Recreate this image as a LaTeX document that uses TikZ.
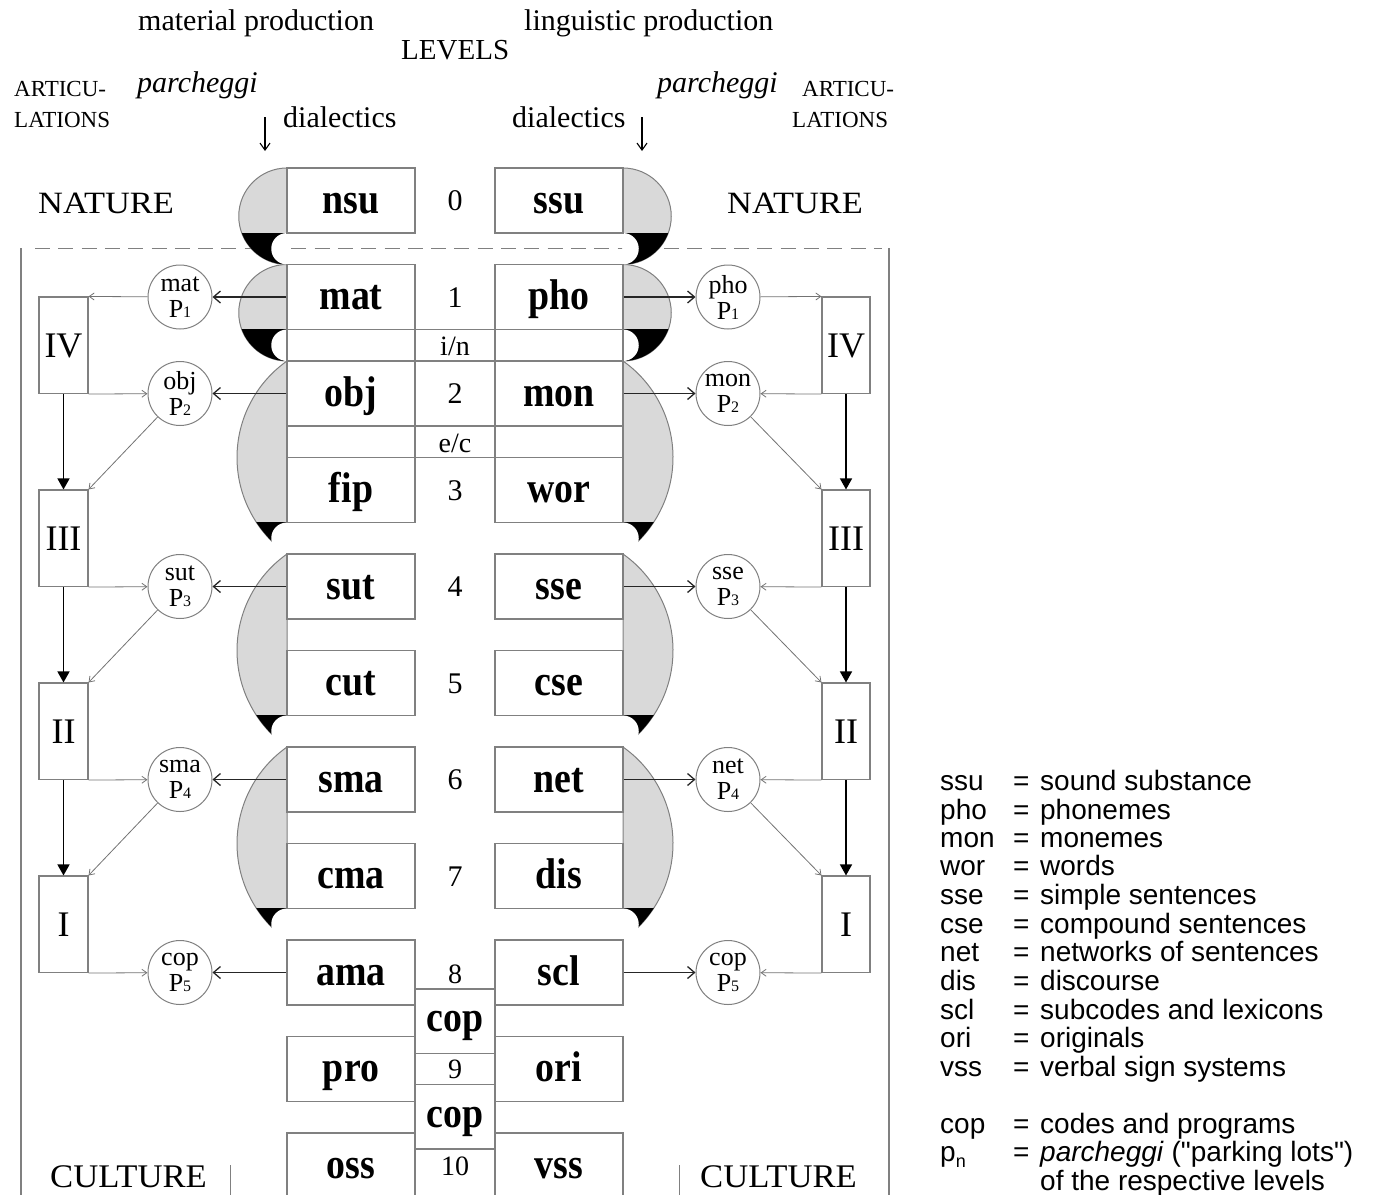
\documentclass[tikz,border=0pt]{standalone}
\usepackage{fontspec}
\setmainfont{Liberation Serif}
\newfontfamily\legfont{Liberation Sans}
\usepackage{graphicx}
\usetikzlibrary{arrows.meta}
\definecolor{segfill}{gray}{0.85}
\definecolor{lgray}{gray}{0.5}
\definecolor{tgray}{gray}{0.45}

\newcommand\lbl[1]{\scalebox{0.88}[1]{\fontsize{43}{43}\selectfont\bfseries #1}}
\newcommand\pcirc[2]{#1\\P{\fontsize{16}{16}\selectfont #2}}

% semicircular segment, left / right
\newcommand\segSL[2]{%
 \fill[segfill] (287,-#1) arc[start angle=90,end angle=270,radius=48.25] -- cycle;
 \draw[seg] (287,-#1) arc[start angle=90,end angle=270,radius=48.25] -- cycle;
 \begin{scope}\clip (200,-#2) rectangle (300,-1200);
 \fill[black] (287,-#1) arc[start angle=90,end angle=270,radius=48.25] -- cycle;
 \end{scope}}
\newcommand\segSR[2]{%
 \fill[segfill] (623,-#1) arc[start angle=90,end angle=-90,radius=48.25] -- cycle;
 \draw[seg] (623,-#1) arc[start angle=90,end angle=-90,radius=48.25] -- cycle;
 \begin{scope}\clip (610,-#2) rectangle (720,-1200);
 \fill[black] (623,-#1) arc[start angle=90,end angle=-90,radius=48.25] -- cycle;
 \end{scope}}
% lens-shaped segment, left / right
\newcommand\segLL[2]{%
 \fill[segfill] (287,-#1) arc[start angle=125.22,end angle=234.78,radius=118.12] -- cycle;
 \draw[seg] (287,-#1) arc[start angle=125.22,end angle=234.78,radius=118.12] -- cycle;
 \begin{scope}\clip (200,-#2) rectangle (300,-1200);
 \fill[black] (287,-#1) arc[start angle=125.22,end angle=234.78,radius=118.12] -- cycle;
 \end{scope}}
\newcommand\segLR[2]{%
 \fill[segfill] (623,-#1) arc[start angle=54.78,end angle=-54.78,radius=118.12] -- cycle;
 \draw[seg] (623,-#1) arc[start angle=54.78,end angle=-54.78,radius=118.12] -- cycle;
 \begin{scope}\clip (610,-#2) rectangle (720,-1200);
 \fill[black] (623,-#1) arc[start angle=54.78,end angle=-54.78,radius=118.12] -- cycle;
 \end{scope}}
\newcommand\pill[2]{\fill[white,rounded corners=15.7pt] (271.25,-#1) rectangle (638.75,-#2);}

\begin{document}
\begin{tikzpicture}[x=1pt,y=1pt,
 box/.style={draw=lgray,line width=1.1pt,fill=white,minimum width=128pt,minimum height=65pt,inner sep=0pt,text height=25pt,text depth=0pt},
 band/.style={draw=lgray,line width=1.1pt,fill=white,minimum height=31.5pt,inner sep=0pt},
 num/.style={inner sep=0pt,font=\fontsize{30}{30}\selectfont,text height=20pt,text depth=0pt},
 snum/.style={inner sep=0pt,font=\fontsize{28}{28}\selectfont,anchor=base},
 park/.style={circle,draw=lgray,line width=1pt,fill=white,minimum size=64pt,inner sep=0pt,align=center,font=\fontsize{26}{26}\selectfont},
 roman/.style={draw=lgray,line width=1.1pt,minimum width=49pt,minimum height=96.5pt,inner sep=0pt,font=\fontsize{36}{36}\selectfont,text height=24pt,text depth=0pt},
 dark/.style={draw=black!85,line width=1.3pt,-{Straight Barb[length=7pt,width=12pt]}},
 thin/.style={draw=tgray,line width=0.8pt,-{Straight Barb[length=5pt,width=7pt]}},
 down/.style={draw=black,line width=1.4pt,-{Triangle[length=11pt,width=12pt]}},
 lab/.style={inner sep=0pt,anchor=base west,font=\fontsize{30}{30}\selectfont},
 seg/.style={draw=lgray,line width=1pt},
 dashline/.style={draw=lgray,line width=1pt,dash pattern=on 15pt off 8.3pt},
]
\useasboundingbox (0,0) rectangle (1388,-1194);

% dashed nature/culture border
\draw[dashline] (35,-248) -- (882,-248);

% segments
\segSL{168}{233} \segSR{168}{233}
\segSL{264.5}{329.5} \segSR{264.5}{329.5}
\segLL{361}{522.5} \segLR{361}{522.5}
\segLL{554}{715.5} \segLR{554}{715.5}
\segLL{747}{908.5} \segLR{747}{908.5}

% white pills
\pill{233}{264.5}
\pill{329.5}{361}
\pill{522.5}{554}
\pill{715.5}{747}
\pill{908.5}{940}

\begin{scope}
\clip (288,-238) rectangle (622,-258);
\draw[dashline] (35,-248) -- (882,-248);
\end{scope}

% frame
\draw[lgray,line width=1.1pt] (21,-248) -- (21,-1200);
\draw[lgray,line width=1.1pt] (889,-248) -- (889,-1200);

% boxes
\node[box] (nsu) at (351,-200.5) {\lbl{nsu}};
\node[box] (ssu) at (559,-200.5) {\lbl{ssu}};
\node[box] (mat) at (351,-297) {\lbl{mat}};
\node[box] (pho) at (559,-297) {\lbl{pho}};
\node[band,minimum width=128pt] (inL) at (351,-345.25) {};
\node[band,minimum width=80pt] (inC) at (455,-345.25) {};
\node[band,minimum width=128pt] (inR) at (559,-345.25) {};
\node[box] (obj) at (351,-393.5) {\lbl{obj}};
\node[box] (mon) at (559,-393.5) {\lbl{mon}};
\node[band,minimum width=128pt] (ecL) at (351,-441.75) {};
\node[band,minimum width=80pt] (ecC) at (455,-441.75) {};
\node[band,minimum width=128pt] (ecR) at (559,-441.75) {};
\node[box] (fip) at (351,-490) {\lbl{fip}};
\node[box] (wor) at (559,-490) {\lbl{wor}};
\node[box] (sut) at (351,-586.5) {\lbl{sut}};
\node[box] (sse) at (559,-586.5) {\lbl{sse}};
\node[box] (cut) at (351,-683) {\lbl{cut}};
\node[box] (cse) at (559,-683) {\lbl{cse}};
\node[box] (sma) at (351,-779.5) {\lbl{sma}};
\node[box] (net) at (559,-779.5) {\lbl{net}};
\node[box] (cma) at (351,-876) {\lbl{cma}};
\node[box] (dis) at (559,-876) {\lbl{dis}};
\node[box] (ama) at (351,-972.5) {\lbl{ama}};
\node[box] (scl) at (559,-972.5) {\lbl{scl}};
\node[box] (pro) at (351,-1069) {\lbl{pro}};
\node[box] (ori) at (559,-1069) {\lbl{ori}};
\node[box] (oss) at (351,-1165.5) {\lbl{oss}};
\node[box] (vss) at (559,-1165.5) {\lbl{vss}};

% center column cells (bottom)
\node[band,minimum width=80pt,minimum height=64.5pt] (cop1) at (455,-1021.25) {};
\node[band,minimum width=80pt,minimum height=31pt] (c9) at (455,-1069) {};
\node[band,minimum width=80pt,minimum height=64.5pt] (cop2) at (455,-1116.75) {};
\node[band,minimum width=80pt,minimum height=61pt] (c10) at (455,-1179.5) {};

% level numbers
\node[num] (n0) at (455,-200.5) {0};
\node[num] (n1) at (455,-297) {1};
\node[snum] (tin) at (455,-355.5) {i/n};
\node[num] (n2) at (455,-393.5) {2};
\node[snum] (tec) at (455,-452) {e/c};
\node[num] (n3) at (455,-490) {3};
\node[num] (n4) at (455,-586.5) {4};
\node[num] (n5) at (455,-683) {5};
\node[num] (n6) at (455,-779.5) {6};
\node[num] (n7) at (455,-876) {7};
\node[snum] (n8) at (455,-983) {8};
\node[inner sep=0pt,anchor=base] (tcop1) at (455,-1031) {\lbl{cop}};
\node[snum] (n9) at (455,-1078) {9};
\node[inner sep=0pt,anchor=base] (tcop2) at (455,-1127) {\lbl{cop}};
\node[snum] (n10) at (455,-1175) {10};

% roman articulation boxes
\node[roman] (IVL) at (63.5,-345.25) {IV};
\node[roman] (IIIL) at (63.5,-538.25) {III};
\node[roman] (IIL) at (63.5,-731.25) {II};
\node[roman] (IL) at (63.5,-924.25) {I};
\node[roman,minimum width=48pt] (IVR) at (846,-345.25) {IV};
\node[roman,minimum width=48pt] (IIIR) at (846,-538.25) {III};
\node[roman,minimum width=48pt] (IIR) at (846,-731.25) {II};
\node[roman,minimum width=48pt] (IR) at (846,-924.25) {I};

% parcheggi circles
\node[park] (cL1) at (180,-297) {\pcirc{mat}{1}};
\node[park] (cL2) at (180,-393.5) {\pcirc{obj}{2}};
\node[park] (cL3) at (180,-586.5) {\pcirc{sut}{3}};
\node[park] (cL4) at (180,-779.5) {\pcirc{sma}{4}};
\node[park] (cL5) at (180,-972.5) {\pcirc{cop}{5}};
\node[park] (cR1) at (728,-297) {\pcirc{pho}{1}};
\node[park] (cR2) at (728,-393.5) {\pcirc{mon}{2}};
\node[park] (cR3) at (728,-586.5) {\pcirc{sse}{3}};
\node[park] (cR4) at (728,-779.5) {\pcirc{net}{4}};
\node[park] (cR5) at (728,-972.5) {\pcirc{cop}{5}};

% left arrows
\draw[dark] (mat.west) -- (cL1);
\draw[thin] (cL1) -- (IVL.north east);
\draw[thin] (IVL.south east) -- (cL2);
\draw[dark] (obj.west) -- (cL2);
\draw[down] (IVL.south) -- (IIIL.north);
\draw[thin] (cL2) -- (IIIL.north east);
\draw[thin] (IIIL.south east) -- (cL3);
\draw[dark] (sut.west) -- (cL3);
\draw[down] (IIIL.south) -- (IIL.north);
\draw[thin] (cL3) -- (IIL.north east);
\draw[thin] (IIL.south east) -- (cL4);
\draw[dark] (sma.west) -- (cL4);
\draw[down] (IIL.south) -- (IL.north);
\draw[thin] (cL4) -- (IL.north east);
\draw[thin] (IL.south east) -- (cL5);
\draw[dark] (ama.west) -- (cL5);

% right arrows
\draw[dark] (pho.east) -- (cR1);
\draw[thin] (cR1) -- (IVR.north west);
\draw[thin] (IVR.south west) -- (cR2);
\draw[dark] (mon.east) -- (cR2);
\draw[down] (IVR.south) -- (IIIR.north);
\draw[thin] (cR2) -- (IIIR.north west);
\draw[thin] (IIIR.south west) -- (cR3);
\draw[dark] (sse.east) -- (cR3);
\draw[down] (IIIR.south) -- (IIR.north);
\draw[thin] (cR3) -- (IIR.north west);
\draw[thin] (IIR.south west) -- (cR4);
\draw[dark] (net.east) -- (cR4);
\draw[down] (IIR.south) -- (IR.north);
\draw[thin] (cR4) -- (IR.north west);
\draw[thin] (IR.south west) -- (cR5);
\draw[dark] (scl.east) -- (cR5);

% top labels
\node[lab] (matprod) at (138,-30) {material production};
\node[lab] (lingprod) at (524,-30) {linguistic production};
\node[lab,font=\fontsize{29}{29}\selectfont] (levels) at (401,-59) {LEVELS};
\node[lab,font=\fontsize{23}{23}\selectfont] (artL1) at (14,-96) {ARTICU-};
\node[lab,font=\fontsize{23}{23}\selectfont] (artL2) at (14,-127) {LATIONS};
\node[lab,font=\fontsize{23}{23}\selectfont] (artR1) at (802,-96) {ARTICU-};
\node[lab,font=\fontsize{23}{23}\selectfont] (artR2) at (792,-127) {LATIONS};
\node[lab,font=\fontsize{30}{30}\selectfont\itshape] (parL) at (137,-92) {parcheggi};
\node[lab,font=\fontsize{30}{30}\selectfont\itshape] (parR) at (657,-92) {parcheggi};
\node[lab] (diaL) at (283,-127) {dialectics};
\node[lab] (diaR) at (512,-127) {dialectics};
\coordinate (aL1) at (265,-117);
\coordinate (aL2) at (265,-151);
\coordinate (aR1) at (642,-117);
\coordinate (aR2) at (642,-151);
\draw[black,line width=1.1pt,-{Straight Barb[length=7pt,width=10pt]}] (aL1) -- (aL2);
\draw[black,line width=1.1pt,-{Straight Barb[length=7pt,width=10pt]}] (aR1) -- (aR2);

\node[lab] (natL) at (38,-213) {\scalebox{1.11}[1]{\fontsize{31}{31}\selectfont NATURE}};
\node[lab] (natR) at (727,-213) {\scalebox{1.11}[1]{\fontsize{31}{31}\selectfont NATURE}};
\node[lab] (culL) at (50,-1187) {\scalebox{1.05}[1]{\fontsize{33}{33}\selectfont CULTURE}};
\node[lab] (culR) at (700,-1187) {\scalebox{1.05}[1]{\fontsize{33}{33}\selectfont CULTURE}};
\coordinate (bL1) at (230,-1165);
\coordinate (bL2) at (230,-1200);
\coordinate (bR1) at (679,-1165);
\coordinate (bR2) at (679,-1200);
\draw[lgray,line width=1pt] (bL1) -- (bL2);
\draw[lgray,line width=1pt] (bR1) -- (bR2);

% legend
\node[anchor=base west,inner sep=0pt,font=\legfont\fontsize{28}{27.9}\selectfont] (legend) at (940,-790.7) {%
\begin{tabular}[t]{@{}p{73pt}@{}p{27pt}@{}l@{}}
ssu & = & sound substance\\
pho & = & phonemes\\
mon & = & monemes\\
wor & = & words\\
sse & = & simple sentences\\
cse & = & compound sentences\\
net & = & networks of sentences\\
dis & = & discourse\\
scl & = & subcodes and lexicons\\
ori & = & originals\\
vss & = & verbal sign systems\\
 & & \\
cop & = & codes and programs\\
p\raisebox{-6pt}{\fontsize{18}{18}\selectfont n} & = & \textit{parcheggi} ("parking lots")\\
 & & of the respective levels
\end{tabular}};
\end{tikzpicture}
\end{document}
